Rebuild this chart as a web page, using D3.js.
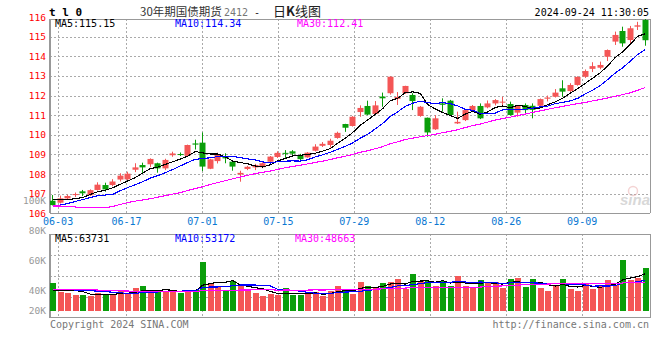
<!DOCTYPE html>
<html>
<head>
<meta charset="utf-8">
<script src="https://cdn.jsdelivr.net/npm/d3@7"></script>
<style>
  body { margin: 0; background: #fff; }
  svg { display: block; }
  text { font-family: "DejaVu Sans Mono", monospace; font-size: 10px; }
</style>
</head>
<body>
<div id="chart"></div>
<script>
// 30年期国债期货 2412, daily K line, 2024-05-31 .. 2024-09-24
const dates = ['05-31',
  '06-03', '06-04', '06-05', '06-06', '06-07', '06-11', '06-12', '06-13', '06-14',
  '06-17', '06-18', '06-19', '06-20', '06-21', '06-24', '06-25', '06-26', '06-27', '06-28',
  '07-01', '07-02', '07-03', '07-04', '07-05', '07-08', '07-09', '07-10', '07-11', '07-12',
  '07-15', '07-16', '07-17', '07-18', '07-19', '07-22', '07-23', '07-24', '07-25', '07-26',
  '07-29', '07-30', '07-31', '08-01', '08-02', '08-05', '08-06', '08-07', '08-08', '08-09',
  '08-12', '08-13', '08-14', '08-15', '08-16', '08-19', '08-20', '08-21', '08-22', '08-23',
  '08-26', '08-27', '08-28', '08-29', '08-30', '09-02', '09-03', '09-04', '09-05', '09-06',
  '09-09', '09-10', '09-11', '09-12', '09-13', '09-18', '09-19', '09-20', '09-23', '09-24'];

const open = [106.64, 106.54, 106.76, 106.93, 107.12, 106.92, 107.19, 107.44, 107.44, 107.72,
  107.73, 108.22, 108.46, 108.50, 108.55, 108.29, 108.96, 109.02, 108.93, 109.56,
  109.60, 108.27, 108.66, 108.88, 108.63, 107.98, 108.26, 108.34, 108.35, 108.63,
  108.87, 109.08, 109.16, 108.97, 108.85, 109.19, 109.44, 109.48, 109.84, 110.55,
  110.45, 111.16, 111.47, 111.06, 111.95, 112.12, 111.83, 112.12, 112.03, 110.96,
  110.87, 110.28, 111.60, 111.74, 110.58, 110.75, 111.26, 111.47, 111.40, 111.60,
  111.66, 111.57, 111.13, 111.52, 111.48, 111.48, 111.84, 111.94, 112.37, 112.23,
  112.54, 112.96, 113.36, 113.42, 113.98, 114.75, 115.29, 114.83, 115.51, 115.85];
const high = [106.93, 106.90, 106.95, 107.06, 107.19, 107.22, 107.58, 107.56, 107.74, 108.04,
  108.12, 108.55, 108.58, 108.80, 108.58, 108.78, 109.14, 109.10, 109.50, 109.75,
  110.12, 108.78, 109.09, 109.06, 108.65, 108.17, 108.42, 108.52, 108.60, 108.92,
  109.16, 109.22, 109.22, 109.03, 109.12, 109.52, 109.63, 109.80, 110.16, 110.56,
  110.95, 111.50, 111.74, 111.72, 112.15, 112.98, 112.18, 112.50, 112.12, 111.47,
  110.88, 111.00, 111.86, 111.78, 111.18, 111.30, 111.52, 111.60, 111.75, 111.82,
  111.94, 111.69, 111.50, 111.60, 111.60, 111.85, 112.00, 112.33, 112.78, 112.63,
  112.98, 113.33, 113.70, 113.73, 114.35, 115.26, 115.51, 115.55, 115.76, 115.94];
const low = [106.40, 106.50, 106.72, 106.83, 106.88, 106.88, 107.16, 107.10, 107.38, 107.62,
  107.70, 108.10, 108.04, 108.35, 108.07, 108.20, 108.88, 108.92, 108.90, 109.25,
  108.15, 108.25, 108.54, 108.55, 108.17, 107.61, 108.20, 108.20, 108.30, 108.60,
  108.82, 108.82, 108.93, 108.68, 108.83, 109.15, 109.38, 109.35, 109.80, 110.15,
  110.42, 110.92, 111.00, 111.03, 111.43, 112.05, 111.52, 112.08, 111.26, 110.92,
  109.90, 110.25, 111.18, 110.98, 110.55, 110.70, 111.20, 110.80, 111.35, 111.50,
  111.43, 110.98, 110.92, 111.10, 110.84, 111.45, 111.70, 111.90, 111.94, 112.13,
  112.50, 112.90, 113.20, 113.34, 113.76, 114.58, 114.49, 114.60, 115.34, 114.54];
const close = [106.42, 106.76, 106.88, 106.98, 107.02, 107.18, 107.46, 107.22, 107.62, 107.92,
  108.02, 108.34, 108.34, 108.77, 108.29, 108.72, 109.05, 108.99, 109.48, 109.50,
  108.38, 108.75, 108.97, 108.80, 108.38, 108.06, 108.37, 108.46, 108.55, 108.89,
  109.08, 109.03, 109.04, 108.76, 109.09, 109.40, 109.54, 109.70, 110.10, 110.36,
  110.92, 111.37, 111.03, 111.50, 111.86, 112.96, 111.93, 112.49, 111.72, 111.43,
  110.12, 110.84, 111.53, 111.01, 110.66, 111.26, 111.47, 110.84, 111.60, 111.77,
  111.69, 111.01, 111.47, 111.26, 111.27, 111.82, 111.90, 112.15, 112.20, 112.54,
  112.95, 113.25, 113.50, 113.56, 114.32, 115.09, 114.66, 115.43, 115.58, 114.82];

const ma5 = [106.70, 106.70, 106.71, 106.74, 106.81, 106.96, 107.10, 107.17, 107.30, 107.48,
  107.65, 107.82, 108.05, 108.28, 108.35, 108.49, 108.63, 108.76, 108.91, 109.15,
  109.08, 109.02, 109.02, 108.88, 108.66, 108.59, 108.52, 108.41, 108.36, 108.47,
  108.67, 108.80, 108.92, 108.96, 109.00, 109.06, 109.17, 109.30, 109.57, 109.82,
  110.12, 110.49, 110.76, 111.04, 111.34, 111.74, 111.86, 112.15, 112.19, 112.11,
  111.54, 111.32, 111.13, 110.99, 110.83, 111.06, 111.19, 111.05, 111.17, 111.39,
  111.47, 111.38, 111.51, 111.44, 111.34, 111.37, 111.54, 111.68, 111.87, 112.12,
  112.35, 112.62, 112.89, 113.16, 113.52, 113.94, 114.23, 114.61, 115.02, 115.15];
const ma10 = [106.36, 106.42, 106.50, 106.60, 106.70, 106.80, 106.90, 106.93, 106.96, 107.15,
  107.31, 107.46, 107.61, 107.79, 107.92, 108.07, 108.23, 108.41, 108.59, 108.75,
  108.79, 108.83, 108.89, 108.89, 108.90, 108.84, 108.77, 108.72, 108.62, 108.56,
  108.63, 108.66, 108.67, 108.66, 108.73, 108.87, 108.98, 109.11, 109.26, 109.41,
  109.59, 109.83, 110.03, 110.30, 110.58, 110.93, 111.17, 111.45, 111.61, 111.72,
  111.64, 111.59, 111.64, 111.59, 111.47, 111.30, 111.25, 111.09, 111.08, 111.11,
  111.27, 111.28, 111.28, 111.30, 111.36, 111.42, 111.46, 111.59, 111.65, 111.73,
  111.86, 112.08, 112.28, 112.51, 112.82, 113.15, 113.42, 113.75, 114.09, 114.34];
const ma30 = [106.37, 106.37, 106.36, 106.32, 106.29, 106.28, 106.28, 106.28, 106.35, 106.45,
  106.55, 106.62, 106.68, 106.74, 106.82, 106.90, 106.98, 107.05, 107.16, 107.26,
  107.36, 107.47, 107.57, 107.66, 107.76, 107.85, 107.94, 108.02, 108.09, 108.15,
  108.24, 108.32, 108.39, 108.45, 108.52, 108.59, 108.66, 108.74, 108.83, 108.91,
  109.00, 109.11, 109.19, 109.29, 109.40, 109.55, 109.64, 109.76, 109.83, 109.90,
  109.96, 110.03, 110.11, 110.18, 110.26, 110.37, 110.47, 110.55, 110.65, 110.75,
  110.83, 110.90, 110.98, 111.06, 111.14, 111.22, 111.30, 111.38, 111.45, 111.52,
  111.59, 111.65, 111.73, 111.80, 111.88, 111.96, 112.05, 112.14, 112.27, 112.41];

const volume = [48412, 32185, 30647, 27104, 26958, 25876, 30412, 28731, 27215, 35802,
  28190, 39264, 42580, 29913, 35647, 32870, 35790, 30021, 35688, 35743,
  84105, 47782, 42655, 34519, 51302, 46044, 35736, 30487, 25960, 28843,
  27031, 39145, 27112, 26990, 28768, 32851, 25933, 34580, 42611, 37452,
  29366, 49510, 42648, 40917, 47835, 49562, 54690, 37418, 63384, 51239,
  51287, 42603, 51275, 42594, 59921, 42637, 39150, 53011, 49527, 49568,
  39186, 54702, 56431, 40925, 54744, 39142, 34005, 44371, 54697, 37465,
  33962, 47828, 37426, 44332, 53008, 44376, 87534, 52967, 56472, 73715];
const volMa5 = [35700, 35700, 35100, 34600, 33060, 28570, 28220, 27880, 27880, 29610,
  30070, 31800, 34560, 35140, 35140, 36060, 35370, 32830, 33980, 33980,
  44240, 46660, 49190, 48960, 52070, 44470, 42050, 39630, 37900, 33410,
  29610, 30300, 29610, 29840, 29840, 30990, 28340, 29840, 32950, 34680,
  33980, 38710, 40320, 39970, 42050, 46080, 47120, 46080, 50570, 51260,
  51610, 49190, 51960, 47810, 49540, 47810, 47120, 47460, 48840, 46770,
  46080, 49190, 49880, 48150, 49190, 49190, 45040, 42620, 45390, 41930,
  40900, 43660, 42280, 40200, 43320, 45390, 53340, 56450, 58870, 63731];
const volMa10 = [36860, 36580, 36290, 35710, 35140, 34560, 33700, 32830, 31970, 31330,
  29320, 30010, 31220, 31510, 32370, 33060, 33580, 33700, 34560, 34560,
  40150, 41010, 41010, 41470, 43030, 44350, 44350, 44410, 43430, 42740,
  37040, 36170, 34620, 33870, 31620, 30300, 29320, 29720, 31390, 32260,
  32490, 33520, 35080, 36460, 38360, 40030, 42910, 43200, 45270, 46660,
  48840, 48150, 49020, 49190, 50400, 49710, 48150, 49710, 48330, 48150,
  46940, 48150, 48670, 48500, 47980, 47640, 47120, 46250, 46770, 45560,
  45040, 44350, 42450, 42800, 42620, 43140, 48500, 49360, 49540, 53172];
const volMa30 = [36860, 36860, 36860, 36860, 36580, 36290, 35710, 35140, 34560, 34270,
  33980, 33700, 33700, 33410, 33410, 33410, 33410, 33410, 33410, 33410,
  34560, 34850, 35140, 35140, 35420, 35710, 35710, 36000, 36000, 36210,
  35500, 35730, 35610, 35610, 35670, 35900, 35750, 35940, 36460, 36520,
  36560, 36900, 36900, 37270, 37670, 38230, 38860, 39110, 40030, 40550,
  39460, 39280, 39570, 39840, 40130, 40010, 40130, 40880, 41660, 42350,
  42760, 43270, 44250, 44710, 45580, 45790, 46060, 46390, 46790, 46790,
  46940, 46890, 46710, 46830, 47000, 46830, 47920, 48440, 48210, 48663];

const tickDates = ['06-03', '06-17', '07-01', '07-15', '07-29', '08-12', '08-26', '09-09'];
const priceTicks = [106, 107, 108, 109, 110, 111, 112, 113, 114, 115, 116];
const volTicks = [20000, 40000, 60000, 80000, 100000];

const RED = '#f45656', GREEN = '#0a9e0a', GRID = '#aaa', AXIS = '#999';
const W = 660, H = 360;
const left = 50, right = 650;
const priceTop = 19, priceBottom = 213.3;
const volTop = 234, volBottom = 317.7;

const svg = d3.select('#chart').append('svg')
    .attr('width', W)
    .attr('height', H);

const n = dates.length;
const x = d3.scaleBand().domain(d3.range(n)).range([49, 649]);
const cx = i => x(i) + x.bandwidth() / 2;
// sina puts the date grid on its own even spacing
const xGrid = d3.scaleLinear().domain([0, n - 1]).range([left, right]);
const y = d3.scaleLinear().domain([106, 115]).range([213.3, 36.7]);
const yVol = d3.scaleLinear().domain([0, 132500]).range([310.7, 234]);
const yVolLabel = d3.scaleLinear().domain([20000, 40000, 100000]).range([310, 290, 200.7]);

const tickIdx = tickDates.map(d => dates.indexOf(d));
const isUp = i => close[i] >= open[i];

// grid
const grid = svg.append('g')
    .attr('stroke', GRID)
    .attr('stroke-dasharray', '2,2')
    .attr('shape-rendering', 'crispEdges');
grid.selectAll('.hp')
    .data(priceTicks.filter(v => v > 106 && v < 116))
    .enter().append('line')
    .attr('x1', left).attr('x2', right)
    .attr('y1', d => Math.round(y(d)) + 0.5)
    .attr('y2', d => Math.round(y(d)) + 0.5);
grid.selectAll('.hv')
    .data(d3.range(1, 4))
    .enter().append('line')
    .attr('x1', left).attr('x2', right)
    .attr('y1', k => Math.round(volTop + k * (volBottom - volTop) / 4) + 0.5)
    .attr('y2', k => Math.round(volTop + k * (volBottom - volTop) / 4) + 0.5);
[[priceTop, priceBottom], [volTop, volBottom]].forEach(([t, b]) => {
    grid.append('g').selectAll('line')
        .data(tickIdx)
        .enter().append('line')
        .attr('x1', d => Math.round(xGrid(d)) + 0.5)
        .attr('x2', d => Math.round(xGrid(d)) + 0.5)
        .attr('y1', t).attr('y2', b);
});

// frames
const frame = svg.append('g')
    .attr('stroke', AXIS)
    .attr('shape-rendering', 'crispEdges');
[[priceTop, priceBottom], [volTop, volBottom]].forEach(([t, b]) => {
    frame.append('line').attr('x1', left).attr('x2', right).attr('y1', t).attr('y2', t);
    frame.append('line').attr('x1', left).attr('x2', right).attr('y1', b).attr('y2', b).attr('stroke-width', 1.5);
    frame.append('line').attr('x1', left).attr('x2', left).attr('y1', t).attr('y2', b).attr('stroke-width', 1.5);
    frame.append('line').attr('x1', right).attr('x2', right).attr('y1', t).attr('y2', b);
});

svg.append('clipPath').attr('id', 'clip-price')
    .append('rect')
    .attr('x', left).attr('y', priceTop)
    .attr('width', right - left).attr('height', priceBottom - priceTop);

// candles
const candles = svg.append('g').attr('clip-path', 'url(#clip-price)');
const candle = candles.selectAll('g')
    .data(d3.range(n))
    .enter().append('g');
candle.append('line')
    .attr('x1', i => Math.floor(cx(i)) + 0.5)
    .attr('x2', i => Math.floor(cx(i)) + 0.5)
    .attr('y1', i => y(high[i]))
    .attr('y2', i => y(low[i]))
    .attr('stroke', i => isUp(i) ? RED : GREEN);
candle.append('rect')
    .attr('x', i => Math.floor(cx(i)) - 2.5)
    .attr('width', 6)
    .attr('y', i => y(Math.max(open[i], close[i])))
    .attr('height', i => Math.max(1, Math.abs(y(open[i]) - y(close[i]))))
    .attr('fill', i => isUp(i) ? RED : GREEN);

const priceLine = d3.line().x((d, i) => cx(i)).y(d => y(d));
[[ma5, '#000'], [ma10, '#0000ff'], [ma30, '#ff00ff']].forEach(([s, c]) => {
    candles.append('path')
        .datum(s)
        .attr('d', priceLine)
        .attr('fill', 'none')
        .attr('stroke', c)
        .attr('stroke-width', 1.1)
        .attr('shape-rendering', 'crispEdges');
});

// volume
svg.append('g').selectAll('rect')
    .data(d3.range(n))
    .enter().append('rect')
    .attr('x', i => Math.floor(cx(i)) - 2.5)
    .attr('width', 6)
    .attr('y', i => yVol(volume[i]))
    .attr('height', i => yVol(0) - yVol(volume[i]))
    .attr('fill', i => isUp(i) ? RED : GREEN)
    .attr('shape-rendering', 'crispEdges');

const volLine = d3.line().x((d, i) => cx(i)).y(d => yVol(d));
[[volMa5, '#000'], [volMa10, '#0000ff'], [volMa30, '#ff00ff']].forEach(([s, c]) => {
    svg.append('path')
        .datum(s)
        .attr('d', volLine)
        .attr('fill', 'none')
        .attr('stroke', c)
        .attr('stroke-width', 1.1)
        .attr('shape-rendering', 'crispEdges');
});

// axes
const yAxis = svg.append('g')
    .attr('transform', `translate(${left},0)`)
    .call(d3.axisLeft(y).tickValues(priceTicks).tickSize(0).tickPadding(4).tickFormat(d3.format('d')));
yAxis.select('.domain').remove();
yAxis.selectAll('text').attr('fill', '#f00').style('font-size', '9.5px').style('font-family', '"DejaVu Sans Mono", monospace');

const vAxis = svg.append('g')
    .attr('transform', `translate(${left},0)`)
    .call(d3.axisLeft(yVolLabel).tickValues(volTicks).tickSize(0).tickPadding(4).tickFormat(v => v / 1000 + 'K'));
vAxis.select('.domain').remove();
vAxis.selectAll('text').attr('fill', '#999').style('font-size', '9.5px').style('font-family', '"DejaVu Sans Mono", monospace');

const xAxis = svg.append('g')
    .attr('transform', `translate(0,${priceBottom})`)
    .call(d3.axisBottom(xGrid).tickValues(tickIdx).tickSize(0).tickPadding(5).tickFormat(i => dates[i]));
xAxis.select('.domain').remove();
xAxis.selectAll('text').attr('fill', '#0a78d2').style('font-size', '10px').style('font-family', '"DejaVu Sans Mono", monospace');

// legends
const legend = (yy, items) => {
    items.forEach(([label, value, color, xx]) => {
        svg.append('text').attr('x', xx).attr('y', yy).attr('fill', color).text(label + ':' + value);
    });
};
const last = n - 1;
legend(27, [['MA5', ma5[last].toFixed(2), '#000', 55],
            ['MA10', ma10[last].toFixed(2), '#0000ff', 175],
            ['MA30', ma30[last].toFixed(2), '#ff00ff', 297]]);
legend(242, [['MA5', volMa5[last], '#000', 55],
             ['MA10', volMa10[last], '#0000ff', 175],
             ['MA30', volMa30[last], '#ff00ff', 295]]);

// titles
svg.append('text').attr('x', 49).attr('y', 15.5)
    .style('font-size', '11px').style('font-weight', 'bold').text('t l 0');
svg.append('text').attr('x', 140).attr('y', 15.5).attr('fill', '#333')
    .style('font-family', '"Noto Sans CJK SC", sans-serif').style('font-size', '11.5px').text('30年期国债期货');
svg.append('text').attr('x', 224).attr('y', 15.5).attr('fill', '#777').text('2412');
svg.append('text').attr('x', 254).attr('y', 15.5).attr('fill', '#222').text('-');
svg.append('text').attr('x', 273).attr('y', 15.5).attr('fill', '#222')
    .style('font-family', '"Noto Sans CJK SC", sans-serif').style('font-size', '13px')
    .html('日<tspan font-weight="bold">K</tspan>线图');
svg.append('text').attr('x', 649).attr('y', 15.5).attr('text-anchor', 'end').attr('fill', '#000')
    .text('2024-09-24 11:30:05');

svg.append('text').attr('x', 50).attr('y', 327.5).attr('fill', '#777').text('Copyright 2024 SINA.COM');
svg.append('text').attr('x', 649).attr('y', 327.5).attr('text-anchor', 'end').attr('fill', '#777')
    .text('http://finance.sina.com.cn');

// watermark
const wm = svg.append('g').attr('opacity', 0.45);
wm.append('circle').attr('cx', 633).attr('cy', 191).attr('r', 4.5)
    .attr('fill', 'none').attr('stroke', '#e8a0a0').attr('stroke-width', 1.5);
wm.append('text').attr('x', 650).attr('y', 205).attr('text-anchor', 'end').attr('fill', '#aaa')
    .style('font-family', '"Liberation Sans", sans-serif').style('font-size', '15px')
    .style('font-weight', 'bold').style('font-style', 'italic').text('sina');
</script>
</body>
</html>
